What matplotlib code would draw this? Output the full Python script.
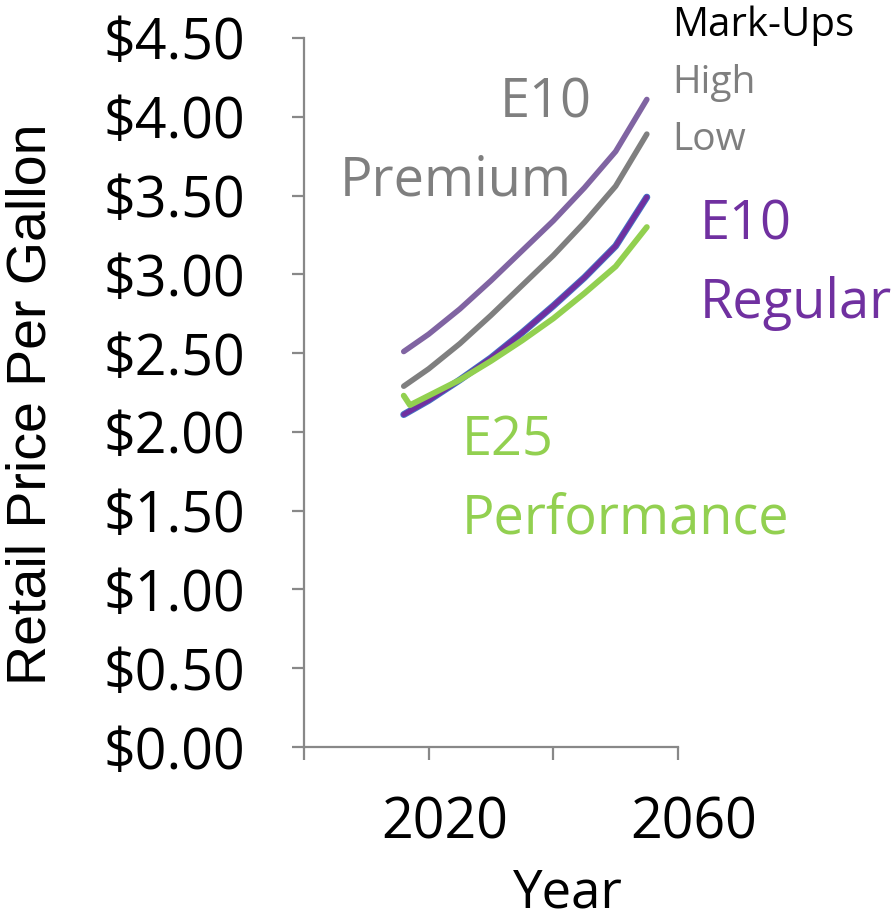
import matplotlib
matplotlib.use("Agg")
import matplotlib.pyplot as plt
import matplotlib.patheffects as pe
from matplotlib.transforms import ScaledTranslation

# Projected retail prices (USD per gallon)
years = [2016, 2020, 2025, 2030, 2035, 2040, 2045, 2050, 2055]
e10_premium_high = [2.51, 2.62, 2.78, 2.96, 3.15, 3.34, 3.55, 3.78, 4.11]
e10_premium_low = [2.29, 2.40, 2.56, 2.74, 2.93, 3.12, 3.33, 3.56, 3.89]
e10_regular = [2.11, 2.20, 2.33, 2.47, 2.63, 2.80, 2.98, 3.18, 3.49]
e25_years = [2016, 2017, 2020, 2025, 2030, 2035, 2040, 2045, 2050, 2055]
e25_performance = [2.23, 2.17, 2.23, 2.33, 2.45, 2.58, 2.72, 2.88, 3.05, 3.30]

y_ticks = [0.0, 0.5, 1.0, 1.5, 2.0, 2.5, 3.0, 3.5, 4.0, 4.5]
x_ticks = [2000, 2020, 2040, 2060]
x_tick_labels = ["", "2020", "", "2060"]

W, H = 894, 924
FONT = "Open Sans"
GRAY = "#7F7F7F"
AXIS = "#888888"
PURPLE = "#7030A0"
LAVENDER = "#8064A2"
GREEN = "#92D050"
BLUE = "#4472C4"


def fx(px):
    return px / W


def fy(py):
    return 1 - py / H


fig = plt.figure(figsize=(W / 100, H / 100), dpi=100)
ax = fig.add_axes([fx(304), fy(747), (678 - 304) / W, (747 - 38) / H])

ax.plot(years, e10_premium_high, color=LAVENDER, lw=4, solid_capstyle="round",
        solid_joinstyle="round")
ax.plot(years, e10_premium_low, color=GRAY, lw=4, solid_capstyle="round",
        solid_joinstyle="round")
ax.plot(years, e10_regular, color=PURPLE, lw=3.6, solid_capstyle="round",
        solid_joinstyle="round",
        path_effects=[pe.Stroke(linewidth=5, foreground=BLUE), pe.Normal()])
ax.plot(e25_years, e25_performance, color=GREEN, lw=4.2, solid_capstyle="round",
        solid_joinstyle="round")

ax.set_xlim(2000, 2060)
ax.set_ylim(0, 4.5)
ax.set_yticks(y_ticks)
ax.set_yticklabels([f"${v:.2f}" for v in y_ticks], fontfamily=FONT, fontsize=40)
ax.set_xticks(x_ticks)
ax.set_xticklabels(x_tick_labels, fontfamily=FONT, fontsize=40)

for side in ("top", "right"):
    ax.spines[side].set_visible(False)
for side in ("left", "bottom"):
    ax.spines[side].set_color(AXIS)
    ax.spines[side].set_linewidth(1.6)
ax.tick_params(axis="y", length=8.5, width=1.6, color=AXIS, pad=34)
ax.tick_params(axis="x", length=9, width=1.6, color=AXIS, pad=26)

# year labels sit a little right of their tick marks
for lbl in ax.get_xticklabels():
    lbl.set_transform(lbl.get_transform() + ScaledTranslation(0.16, 0, fig.dpi_scale_trans))

# Axis titles
fig.text(fx(32), fy(404), "Retail Price Per Gallon", rotation=90, ha="center",
         va="center", fontfamily="Liberation Sans", fontsize=40)
fig.text(fx(568), fy(908), "Year", ha="center", va="baseline",
         fontfamily=FONT, fontsize=38)

# Series labels
fig.text(fx(546), fy(118), "E10", ha="center", va="baseline", color=GRAY,
         fontfamily=FONT, fontsize=39)
fig.text(fx(456), fy(195), "Premium", ha="center", va="baseline", color=GRAY,
         fontfamily=FONT, fontsize=39)
fig.text(fx(672), fy(36), "Mark-Ups", ha="left", va="baseline", color="black",
         fontfamily=FONT, fontsize=29)
fig.text(fx(672), fy(93), "High", ha="left", va="baseline", color=GRAY,
         fontfamily=FONT, fontsize=28)
fig.text(fx(672), fy(150), "Low", ha="left", va="baseline", color=GRAY,
         fontfamily=FONT, fontsize=28)
fig.text(fx(700), fy(240), "E10", ha="left", va="baseline", color=PURPLE,
         fontfamily=FONT, fontsize=39)
fig.text(fx(700), fy(318), "Regular", ha="left", va="baseline", color=PURPLE,
         fontfamily=FONT, fontsize=39)
fig.text(fx(462), fy(455), "E25", ha="left", va="baseline", color=GREEN,
         fontfamily=FONT, fontsize=39)
fig.text(fx(462), fy(533), "Performance", ha="left", va="baseline", color=GREEN,
         fontfamily=FONT, fontsize=39)

fig.savefig("out.png", dpi=100)
